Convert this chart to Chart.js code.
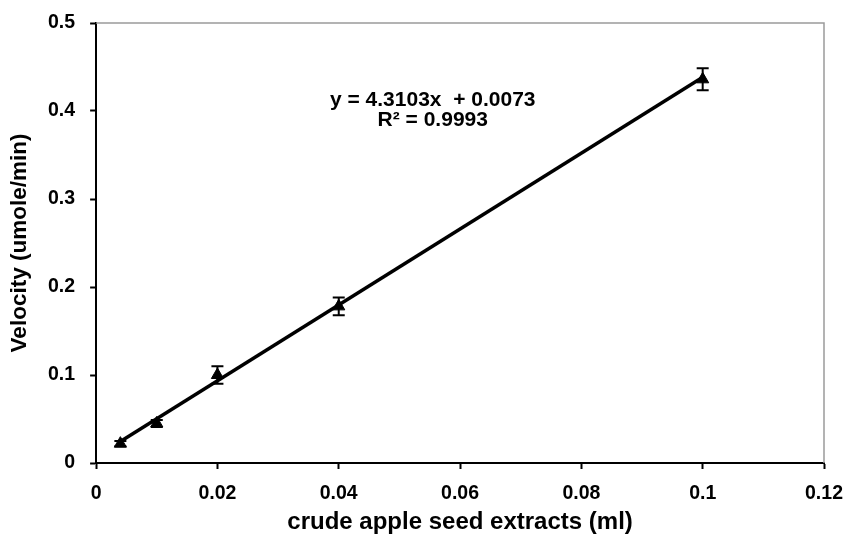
<!DOCTYPE html>
<html>
<head>
<meta charset="utf-8">
<script src="https://cdn.jsdelivr.net/npm/chart.js@4/dist/chart.umd.min.js"></script>
<style>
html,body{margin:0;padding:0;background:#fff;}
#wrap{width:851px;height:545px;position:relative;}
</style>
</head>
<body>
<div id="wrap"><canvas id="c" width="851" height="545"></canvas></div>
<script>
const volumes = [0.004, 0.01, 0.02, 0.04, 0.1];
const velocities = [0.022, 0.045, 0.100, 0.178, 0.436];
const errors = [0.003, 0.004, 0.010, 0.010, 0.0125];
const trendX = [0.004, 0.1];
const trendY = [0.0245, 0.4383];
const xTicks = [0, 0.02, 0.04, 0.06, 0.08, 0.1, 0.12];
const yTicks = [0, 0.1, 0.2, 0.3, 0.4, 0.5];
const equationLines = ['y = 4.3103x  + 0.0073', 'R\u00b2 = 0.9993'];

const FONT = '"Liberation Sans", Arial, sans-serif';

const errorBars = {
  id: 'errorBars',
  afterDatasetsDraw(chart) {
    const ctx = chart.ctx, xs = chart.scales.x, ys = chart.scales.y;
    ctx.save();
    ctx.strokeStyle = '#000';
    ctx.lineWidth = 2;
    volumes.forEach((v, i) => {
      const px = xs.getPixelForValue(v);
      const top = ys.getPixelForValue(velocities[i] + errors[i]);
      const bot = ys.getPixelForValue(velocities[i] - errors[i]);
      ctx.beginPath();
      ctx.moveTo(px, top); ctx.lineTo(px, bot);
      ctx.moveTo(px - 6, top); ctx.lineTo(px + 6, top);
      ctx.moveTo(px - 6, bot); ctx.lineTo(px + 6, bot);
      ctx.stroke();
    });
    ctx.restore();
  }
};

const frameAndText = {
  id: 'frameAndText',
  beforeDatasetsDraw(chart) {
    const ctx = chart.ctx, a = chart.chartArea;
    ctx.save();
    ctx.strokeStyle = '#9a9a9a';
    ctx.lineWidth = 1.5;
    ctx.beginPath();
    ctx.moveTo(a.left, a.top); ctx.lineTo(a.right, a.top); ctx.lineTo(a.right, a.bottom);
    ctx.stroke();
    ctx.restore();
  },
  afterDraw(chart) {
    const ctx = chart.ctx, xs = chart.scales.x, ys = chart.scales.y;
    ctx.save();
    ctx.fillStyle = '#000';
    ctx.font = 'bold 21px ' + FONT;
    ctx.textAlign = 'center';
    ctx.textBaseline = 'middle';
    const cx = xs.getPixelForValue(0.0555);
    ctx.fillText(equationLines[0], cx, ys.getPixelForValue(0.412));
    ctx.fillText(equationLines[1], cx, ys.getPixelForValue(0.389));
    ctx.restore();
  }
};

new Chart(document.getElementById('c'), {
  type: 'scatter',
  data: {
    datasets: [
      {
        label: 'trend',
        data: trendX.map((x, i) => ({x, y: trendY[i]})),
        showLine: true,
        borderColor: '#000',
        borderWidth: 3.5,
        pointRadius: 0,
        order: 2
      },
      {
        label: 'data',
        data: volumes.map((x, i) => ({x, y: velocities[i]})),
        pointStyle: 'triangle',
        pointRadius: 7,
        backgroundColor: '#000',
        borderColor: '#000',
        borderWidth: 1,
        order: 1
      }
    ]
  },
  options: {
    responsive: false,
    animation: false,
    layout: {padding: {top: 23, right: 27, bottom: 11, left: 0}},
    plugins: {legend: {display: false}, tooltip: {enabled: false}},
    scales: {
      x: {
        type: 'linear', min: 0, max: 0.12,
        afterBuildTicks(s) { s.ticks = xTicks.map(v => ({value: v})); },
        afterFit(s) { s.paddingRight = 0; s.paddingLeft = 0; },
        grid: {drawOnChartArea: false, tickLength: 6, tickColor: '#000', tickWidth: 2},
        border: {color: '#000', width: 2},
        ticks: {color: '#000', font: {family: FONT, size: 19.5, weight: 'bold', lineHeight: 1}, padding: 15,
                maxRotation: 0, callback: v => String(v)},
        title: {display: true, text: 'crude apple seed extracts (ml)', color: '#000',
                font: {family: FONT, size: 24, weight: 'bold', lineHeight: 1}, padding: {top: -8.5, bottom: 0}}
      },
      y: {
        type: 'linear', min: 0, max: 0.5,
        afterBuildTicks(s) { s.ticks = yTicks.map(v => ({value: v})); },
        afterFit(s) { s.paddingTop = 0; s.paddingBottom = 0; },
        grid: {drawOnChartArea: false, tickLength: 6, tickColor: '#000', tickWidth: 2},
        border: {color: '#000', width: 2},
        ticks: {color: '#000', font: {family: FONT, size: 19.5, weight: 'bold'}, padding: 15,
                callback: v => String(v)},
        title: {display: true, text: 'Velocity (umole/min)', color: '#000',
                font: {family: FONT, size: 22.5, weight: 'bold'}, padding: {top: 6, bottom: 0}}
      }
    }
  },
  plugins: [frameAndText, errorBars]
});
</script>
</body>
</html>
